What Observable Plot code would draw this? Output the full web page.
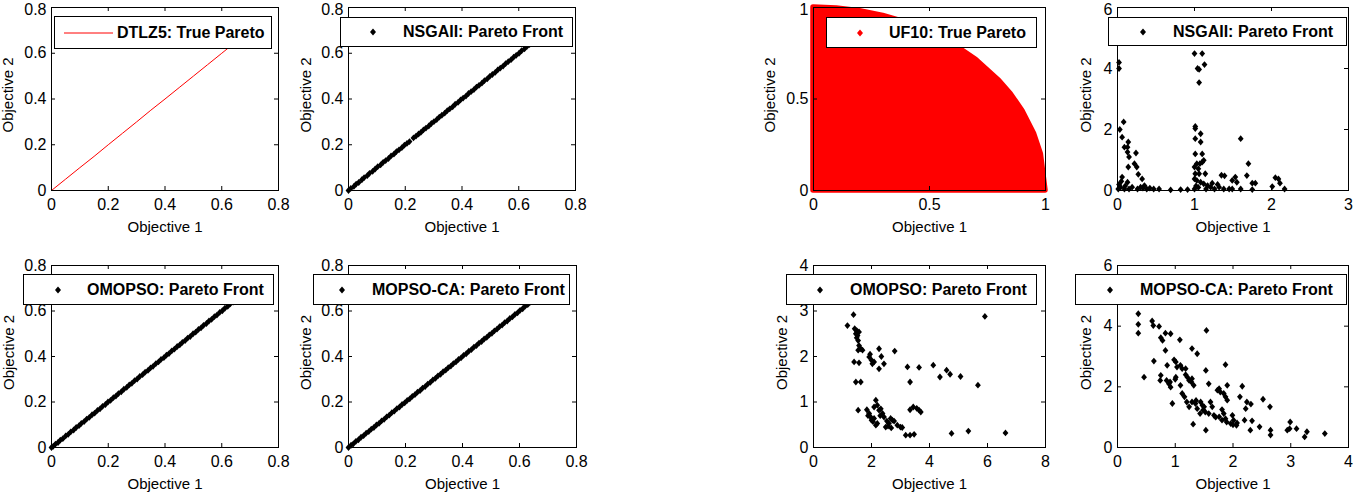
<!DOCTYPE html>
<html><head><meta charset="utf-8">
<script src="https://cdn.jsdelivr.net/npm/d3@7"></script>
<script src="https://cdn.jsdelivr.net/npm/@observablehq/plot@0.6"></script>
<style>
body{margin:0;background:#fff;overflow:hidden}
#fig{position:relative;width:1353px;height:496px;font-family:"Liberation Sans",Arial,sans-serif;overflow:hidden;background:#fff}
.panel{position:absolute}
.legend{position:absolute;background:#fff;border:1px solid #000;box-sizing:border-box;font-weight:bold;font-size:16px;white-space:nowrap;z-index:5}
.legend .lt{position:absolute;top:50%;transform:translateY(-50%);line-height:1}
.legend svg{position:absolute;top:50%;transform:translateY(-50%)}
</style></head><body><div id="fig"></div><script>
// ---------- data ----------
const seriesNames = ["DTLZ5: True Pareto","NSGAII: Pareto Front","UF10: True Pareto","NSGAII: Pareto Front",
  "OMOPSO: Pareto Front","MOPSO-CA: Pareto Front","OMOPSO: Pareto Front","MOPSO-CA: Pareto Front"];
const axisLabelX = "Objective 1";
const axisLabelY = "Objective 2";

const ticksDtlz = [0,0.2,0.4,0.6,0.8];
const ticksUf10True = [0,0.5,1];
const ticksNsgaX = [0,1,2,3];
const ticksNsgaY = [0,2,4,6];
const ticksOmoX = [0,2,4,6,8];
const ticksOmoY = [0,1,2,3,4];
const ticksMopX = [0,1,2,3,4];
const ticksMopY = [0,2,4,6];

const dtlz5True = [[0,0],[0.05,0.05],[0.1,0.1],[0.15,0.149],[0.2,0.2],[0.25,0.25],[0.3,0.3],[0.35,0.351],[0.4,0.4],[0.45,0.45],[0.5,0.5],[0.55,0.55],[0.6,0.6],[0.65,0.65],[0.707,0.707]];

const nsgaiiDtlz5 = [[0,0],[0.008,0.009],[0.019,0.018],[0.027,0.028],[0.036,0.035],[0.047,0.047],[0.055,0.056],[0.066,0.065],[0.074,0.075],[0.085,0.084],[0.094,0.094],[0.103,0.104],[0.113,0.112],[0.122,0.123],[0.131,0.131],[0.141,0.14],[0.15,0.151],[0.16,0.159],[0.169,0.17],[0.178,0.178],[0.188,0.187],[0.197,0.198],[0.206,0.206],[0.215,0.214],[0.229,0.23],[0.238,0.238],[0.247,0.247],[0.255,0.254],[0.264,0.265],[0.273,0.273],[0.283,0.282],[0.292,0.293],[0.301,0.301],[0.311,0.31],[0.32,0.321],[0.329,0.329],[0.339,0.338],[0.348,0.349],[0.357,0.357],[0.367,0.366],[0.376,0.377],[0.386,0.385],[0.395,0.396],[0.404,0.404],[0.414,0.413],[0.423,0.424],[0.432,0.432],[0.442,0.441],[0.451,0.452],[0.46,0.46],[0.47,0.469],[0.479,0.48],[0.489,0.488],[0.498,0.499],[0.507,0.507],[0.517,0.516],[0.526,0.527],[0.535,0.535],[0.545,0.544],[0.554,0.555],[0.563,0.563],[0.573,0.572],[0.582,0.583],[0.591,0.591],[0.601,0.6],[0.61,0.611],[0.62,0.619],[0.629,0.63],[0.638,0.638],[0.648,0.647],[0.657,0.658],[0.666,0.666],[0.676,0.675],[0.685,0.686],[0.694,0.694],[0.704,0.703]];

const omopsoDtlz5 = [[0,0],[0.006,0.005],[0.014,0.015],[0.023,0.022],[0.031,0.032],[0.04,0.039],[0.05,0.051],[0.059,0.058],[0.068,0.069],[0.078,0.077],[0.087,0.088],[0.097,0.096],[0.105,0.106],[0.115,0.114],[0.124,0.125],[0.133,0.132],[0.143,0.144],[0.152,0.151],[0.162,0.163],[0.171,0.17],[0.18,0.181],[0.19,0.189],[0.199,0.2],[0.208,0.207],[0.218,0.219],[0.227,0.226],[0.236,0.237],[0.246,0.245],[0.255,0.256],[0.265,0.264],[0.274,0.275],[0.283,0.282],[0.293,0.294],[0.302,0.301],[0.311,0.312],[0.321,0.32],[0.33,0.331],[0.34,0.339],[0.349,0.35],[0.358,0.357],[0.368,0.369],[0.377,0.376],[0.386,0.387],[0.396,0.395],[0.405,0.406],[0.414,0.413],[0.424,0.425],[0.433,0.432],[0.443,0.444],[0.452,0.451],[0.461,0.462],[0.471,0.47],[0.48,0.481],[0.489,0.488],[0.499,0.5],[0.508,0.507],[0.518,0.519],[0.527,0.526],[0.536,0.537],[0.546,0.545],[0.555,0.556],[0.564,0.563],[0.574,0.575],[0.583,0.582],[0.593,0.594],[0.602,0.601],[0.611,0.612],[0.621,0.62],[0.63,0.631],[0.64,0.639],[0.649,0.65],[0.658,0.657],[0.668,0.669],[0.677,0.676],[0.686,0.687],[0.696,0.695],[0.705,0.706]];

const mopsocaDtlz5 = [[0,0],[0.009,0.01],[0.017,0.016],[0.026,0.027],[0.035,0.034],[0.044,0.045],[0.053,0.052],[0.062,0.063],[0.071,0.07],[0.08,0.081],[0.089,0.088],[0.098,0.099],[0.107,0.106],[0.116,0.117],[0.125,0.124],[0.134,0.135],[0.143,0.142],[0.152,0.153],[0.161,0.16],[0.17,0.171],[0.179,0.178],[0.188,0.189],[0.197,0.196],[0.206,0.207],[0.215,0.214],[0.224,0.225],[0.233,0.232],[0.242,0.243],[0.251,0.25],[0.26,0.261],[0.269,0.268],[0.278,0.279],[0.287,0.286],[0.296,0.297],[0.305,0.304],[0.314,0.315],[0.323,0.322],[0.332,0.333],[0.341,0.34],[0.35,0.351],[0.359,0.358],[0.368,0.369],[0.377,0.376],[0.386,0.387],[0.395,0.394],[0.404,0.405],[0.413,0.412],[0.422,0.423],[0.431,0.43],[0.44,0.441],[0.449,0.448],[0.458,0.459],[0.467,0.466],[0.476,0.477],[0.485,0.484],[0.494,0.495],[0.503,0.502],[0.512,0.513],[0.521,0.52],[0.53,0.531],[0.539,0.538],[0.548,0.549],[0.557,0.556],[0.566,0.567],[0.575,0.574],[0.584,0.585],[0.593,0.592],[0.602,0.603],[0.611,0.61],[0.62,0.621],[0.629,0.628],[0.638,0.639],[0.647,0.646],[0.656,0.657],[0.665,0.664],[0.674,0.675],[0.683,0.682],[0.692,0.693],[0.701,0.7]];

const uf10TrueBoundary = [[0,1],[0.1,0.995],[0.2,0.98],[0.3,0.954],[0.4,0.917],[0.5,0.866],[0.6,0.8],[0.7,0.714],[0.8,0.6],[0.85,0.527],[0.9,0.436],[0.95,0.312],[0.98,0.199],[1,0]];

const nsgaiiUf10 = [[0.02,4.2],[0.02,4.0],[0.08,2.25],[0.03,2.0],[0.06,1.75],[0.09,1.42],[0.13,1.42],[0.14,1.59],[0.13,1.26],[0.15,1.1],[0.24,1.23],[0.14,0.77],[0.22,0.88],[0.25,0.77],[0.27,0.53],[0.32,0.38],[0.06,0.44],[0.13,0.27],[0.02,0.2],[0.04,0.11],[0.09,0.05],[0.15,0.05],[0.19,0.11],[0.26,0.05],[0.3,0.11],[0.35,0.16],[0.38,0.05],[0.42,0.08],[0.47,0.05],[0.54,0.05],[0.69,0.02],[0.82,0.03],[0.91,0.03],[0.05,0.3],[0.01,0.05],[0.1,0.15],[0.33,0.08],
 [1.0,4.49],[1.1,4.49],[1.04,4.0],[1.06,3.97],[1.13,4.13],[1.06,3.54],[1.01,2.1],[1.01,2.03],[1.08,1.86],[1.01,1.7],[1.08,1.59],[1.01,1.2],[1.1,1.2],[1.03,0.88],[1.07,0.88],[1.1,0.93],[1.12,0.99],[1.0,0.77],[1.05,0.71],[1.01,0.55],[1.06,0.55],[1.14,0.55],[1.0,0.38],[1.03,0.33],[1.08,0.27],[1.12,0.22],[1.17,0.16],[1.21,0.11],[1.26,0.05],[1.32,0.11],[1.35,0.5],[1.39,0.48],[1.23,0.24],[1.49,0.33],[1.53,0.44],[1.55,0.27],[1.6,1.7],[1.7,0.88],[1.68,0.49],[1.75,0.24],[1.79,0.24],[1.45,0.05],[1.49,0.05],[1.6,0.05],[1.75,0.03],[2.01,0.13],[2.05,0.42],[2.09,0.38],[2.11,0.24],[2.17,0.05],[1.02,0.15],[1.0,0.05],[1.05,0.1],[1.15,0.05],[1.38,0.05],[1.3,0.2]];

const omopsoUf10 = [[1.17,2.68],[1.38,2.92],[1.42,2.61],[1.49,2.57],[1.46,2.5],[1.52,2.46],[1.49,2.41],[1.54,2.35],[1.57,2.54],[1.57,2.24],[1.63,2.17],[1.54,2.14],[1.69,2.14],[1.4,1.88],[1.57,1.86],[1.46,1.44],[1.63,1.44],[1.54,0.82],[1.92,1.99],[2.0,1.92],[2.09,1.88],[2.03,1.84],[1.95,2.05],[2.26,2.17],[2.34,2.0],[2.43,1.84],[2.26,1.73],[2.8,2.12],[3.24,1.77],[3.33,1.44],[3.64,1.76],[4.13,1.81],[4.36,1.55],[4.59,1.7],[4.71,1.61],[5.07,1.56],[5.67,1.37],[5.91,2.88],[6.62,0.32],[5.34,0.36],[4.76,0.31],
 [2.15,1.04],[2.09,0.89],[2.2,0.93],[2.26,0.82],[2.32,0.85],[1.84,0.83],[1.92,0.75],[1.97,0.67],[2.0,0.6],[2.09,0.64],[2.15,0.49],[2.2,0.53],[2.38,0.75],[2.43,0.67],[2.53,0.58],[2.49,0.45],[2.6,0.53],[2.66,0.64],[2.72,0.6],[2.78,0.58],[2.89,0.49],[3.0,0.45],[3.06,0.44],[3.18,0.27],[3.33,0.27],[3.47,0.29],[3.33,0.83],[3.44,0.89],[3.56,0.86],[3.64,0.82],[3.7,0.78],[2.3,0.7],[1.88,0.7],[2.05,0.57],[2.57,0.47],[2.68,0.43]];

const mopsocaUf10 = [[0.36,4.41],[0.36,4.06],[0.36,3.77],[0.46,2.32],[0.6,4.17],[0.62,4.02],[0.72,3.99],[0.75,3.62],[0.78,3.53],[0.83,3.77],[0.92,3.75],[0.63,2.85],[0.75,2.38],[0.74,2.21],[0.83,3.2],[0.86,2.71],[0.85,2.21],[0.89,2.1],[0.92,1.99],[0.91,2.16],[0.95,1.45],[0.98,2.89],[1.01,2.82],[1.03,2.65],[1.01,2.32],[1.09,2.71],[1.12,2.6],[1.09,2.05],[1.12,1.78],[1.08,3.55],[1.18,2.6],[1.21,2.32],[1.24,2.21],[1.28,2.16],[1.18,2.4],[1.16,1.67],[1.2,1.5],[1.24,1.34],[1.29,3.26],[1.38,3.09],[1.32,2.05],[1.29,2.27],[1.31,0.77],[1.29,1.5],[1.35,1.45],[1.38,1.28],[1.44,1.5],[1.47,1.39],[1.5,1.34],[1.43,1.12],[1.48,1.23],[1.52,1.17],[1.58,1.12],[1.54,3.86],[1.53,2.54],[1.53,0.57],[1.58,2.1],[1.61,1.5],[1.64,1.34],[1.67,1.06],[1.73,1.89],[1.76,1.94],[1.78,1.83],[1.84,1.78],[1.87,1.67],[1.9,1.56],[1.81,1.25],[1.84,1.12],[1.76,1.01],[1.81,0.9],[1.87,0.95],[1.89,0.84],[1.96,0.79],[1.87,2.73],[1.9,2.05],[1.99,1.06],[2.01,0.9],[2.06,0.73],[2.07,0.81],[2.12,1.67],[2.16,2.02],[2.2,0.9],[2.22,1.28],[2.24,1.5],[2.3,0.57],[2.33,0.88],[2.31,1.43],[2.46,0.68],[2.52,1.59],[2.64,1.34],[2.65,0.57],[2.65,0.41],[2.94,0.57],[2.99,0.84],[2.98,0.62],[3.1,0.62],[3.24,0.35],[3.28,0.52],[3.59,0.46],[1.0,2.25],[1.36,1.55],[1.7,1.0],[2.0,0.75]];

// ---------- styling / layout ----------
const FONT = '"Liberation Sans", Arial, sans-serif';
const diamond = {draw(ctx){ctx.moveTo(0,-3.4);ctx.lineTo(2.9,0);ctx.lineTo(0,3.4);ctx.lineTo(-2.9,0);ctx.closePath();}};
const ML = 51, MR = 5, MT = 7;

const panels = [
  {fx:51,  fy:7,   fw:227, fh:183, mb:50, top:true,  xd:[0,0.8], yd:[0,0.8], xt:ticksDtlz, yt:ticksDtlz, yl:38.3, kind:"line", data:dtlz5True, color:"red"},
  {fx:348, fy:7,   fw:227, fh:183, mb:50, top:true,  xd:[0,0.8], yd:[0,0.8], xt:ticksDtlz, yt:ticksDtlz, yl:37.3, kind:"dots", data:nsgaiiDtlz5, color:"black"},
  {fx:813, fy:7,   fw:232, fh:183, mb:50, top:true,  xd:[0,1], yd:[0,1], xt:ticksUf10True, yt:ticksUf10True, yl:39, kind:"area", data:uf10TrueBoundary, color:"red"},
  {fx:1117,fy:7,   fw:231, fh:183, mb:50, top:true,  xd:[0,3], yd:[0,6], xt:ticksNsgaX, yt:ticksNsgaY, yl:27, kind:"dots", data:nsgaiiUf10, color:"black"},
  {fx:51,  fy:265, fw:227, fh:182, mb:49, top:false, xd:[0,0.8], yd:[0,0.8], xt:ticksDtlz, yt:ticksDtlz, yl:37.7, kind:"dots", data:omopsoDtlz5, color:"black"},
  {fx:348, fy:265, fw:228, fh:182, mb:49, top:false, xd:[0,0.8], yd:[0,0.8], xt:ticksDtlz, yt:ticksDtlz, yl:37.3, kind:"dots", data:mopsocaDtlz5, color:"black"},
  {fx:813, fy:265, fw:232, fh:182, mb:49, top:false, xd:[0,8], yd:[0,4], xt:ticksOmoX, yt:ticksOmoY, yl:26.5, kind:"dots", data:omopsoUf10, color:"black"},
  {fx:1117,fy:265, fw:231, fh:182, mb:49, top:false, xd:[0,4], yd:[0,6], xt:ticksMopX, yt:ticksMopY, yl:26.7, kind:"dots", data:mopsocaUf10, color:"black"}
];

const legends = [
  {left:54,  top:16,  w:218, h:33, tx:63, mx:33, marker:"line"},
  {left:340, top:17,  w:233, h:30, tx:63, mx:33, marker:"diamond"},
  {left:826, top:17,  w:211, h:31, tx:63, mx:34, marker:"diamond"},
  {left:1108,top:17,  w:239, h:29, tx:65, mx:35, marker:"diamond"},
  {left:23,  top:274, w:251, h:31, tx:64, mx:35, marker:"diamond"},
  {left:313, top:274, w:257, h:31, tx:59, mx:29, marker:"diamond"},
  {left:786, top:274, w:251, h:31, tx:64, mx:34, marker:"diamond"},
  {left:1075,top:274, w:272, h:31, tx:65, mx:35, marker:"diamond"}
];

const fig = document.getElementById("fig");
const fmt = d3.format("~g");

panels.forEach((p, i) => {
  let dataMarks;
  if (p.kind === "line") {
    dataMarks = [Plot.line(p.data, {x: d => d[0], y: d => d[1], stroke: p.color, strokeWidth: 1})];
  } else if (p.kind === "area") {
    dataMarks = [Plot.areaY(p.data, {x: d => d[0], y: d => d[1], fill: p.color, stroke: p.color, strokeWidth: 5.5, strokeLinejoin: "round"})];
  } else {
    dataMarks = [Plot.dot(p.data, {x: d => d[0], y: d => d[1], symbol: diamond, fill: p.color, stroke: "none"})];
  }
  // y tick labels: the topmost one on the top row is nudged down so it stays inside the page
  const yAxes = p.top
    ? [Plot.axisY({ticks: p.yt.slice(0, -1), tickSize: 0, tickPadding: 5, tickFormat: fmt, label: null, fontSize: 16}),
       Plot.axisY({ticks: p.yt.slice(-1), tickSize: 0, tickPadding: 5, tickFormat: fmt, label: null, fontSize: 16, dy: 2.4})]
    : [Plot.axisY({ticks: p.yt, tickSize: 0, tickPadding: 5, tickFormat: fmt, label: null, fontSize: 16})];
  const width = ML + p.fw + MR, height = MT + p.fh + p.mb;
  const svg = Plot.plot({
    width, height, marginLeft: ML, marginRight: MR, marginTop: MT, marginBottom: p.mb,
    style: {fontFamily: FONT, fontSize: "16px", color: "black", background: "transparent", overflow: "visible"},
    x: {domain: p.xd},
    y: {domain: p.yd},
    marks: [
      ...dataMarks,
      Plot.frame({stroke: "black", strokeWidth: 1}),
      Plot.ruleX(p.xt, {insetTop: p.fh - 4, stroke: "black"}),
      Plot.ruleX(p.xt, {insetBottom: p.fh - 4, stroke: "black"}),
      Plot.ruleY(p.yt, {insetRight: p.fw - 4, stroke: "black"}),
      Plot.ruleY(p.yt, {insetLeft: p.fw - 4, stroke: "black"}),
      Plot.axisX({ticks: p.xt, tickSize: 0, tickPadding: 8, tickFormat: fmt, label: null, fontSize: 16}),
      ...yAxes,
      Plot.text([axisLabelX], {frameAnchor: "bottom", dy: 41, lineAnchor: "bottom", fontSize: 15}),
      Plot.text([axisLabelY], {frameAnchor: "left", rotate: -90, dx: -p.yl, dy: -4, lineAnchor: "bottom", textAnchor: "middle", fontSize: 15})
    ]
  });
  const div = document.createElement("div");
  div.className = "panel";
  div.style.left = (p.fx - ML) + "px";
  div.style.top = (p.fy - MT) + "px";
  div.style.width = width + "px";
  div.style.height = height + "px";
  div.appendChild(svg);
  fig.appendChild(div);

  const L = legends[i];
  const lg = document.createElement("div");
  lg.className = "legend";
  Object.assign(lg.style, {left: L.left + "px", top: L.top + "px", width: L.w + "px", height: L.h + "px"});
  let mk;
  if (L.marker === "line") {
    mk = `<svg width="60" height="4" style="left:8px"><line x1="1" x2="50" y1="2" y2="2" stroke="${p.color}" stroke-width="1"/></svg>`;
  } else {
    mk = `<svg width="10" height="10" style="left:${L.mx - 6}px"><path d="M5,1.5L8,5L5,8.5L2,5Z" fill="${p.color}"/></svg>`;
  }
  lg.innerHTML = mk + `<span class="lt" style="left:${L.tx - 1}px">${seriesNames[i]}</span>`;
  fig.appendChild(lg);
});
</script></body></html>
